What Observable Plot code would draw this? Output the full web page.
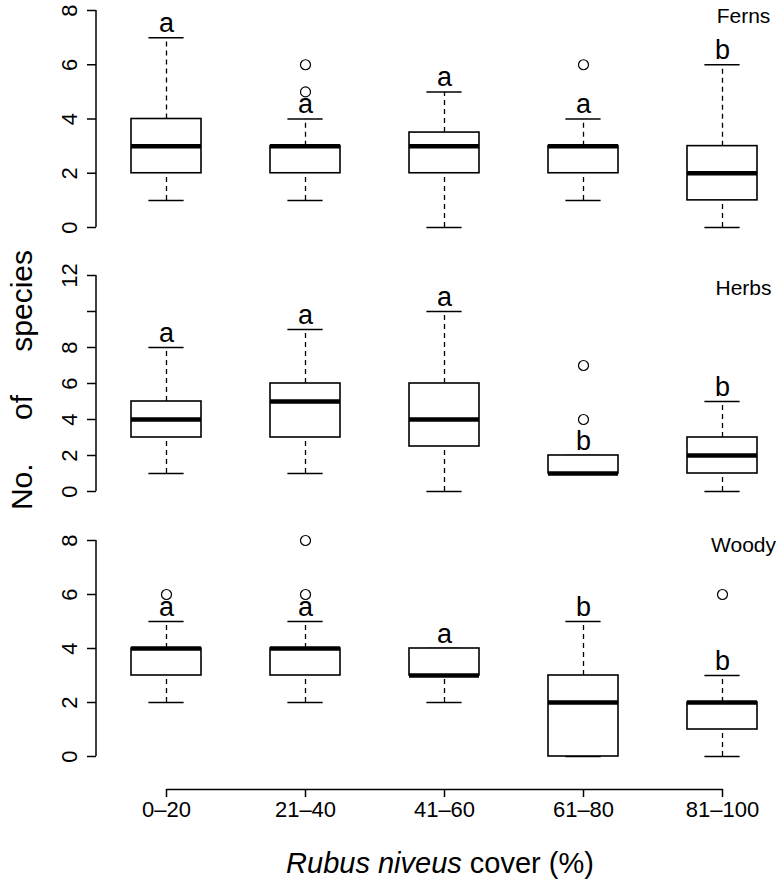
<!DOCTYPE html>
<html><head><meta charset="utf-8">
<script src="https://cdn.jsdelivr.net/npm/d3@7"></script>
<script src="https://cdn.jsdelivr.net/npm/@observablehq/plot@0.6"></script>
<style>
html,body{margin:0;padding:0;background:#fff;}
#chart{position:relative;width:784px;height:885px;overflow:hidden;background:#fff;font-family:"Liberation Sans",Arial,Helvetica,sans-serif;}
#chart svg{position:absolute;left:0;}
</style></head><body><div id="chart"></div>
<script>
// ---- data ----
const categories = ["0–20", "21–40", "41–60", "61–80", "81–100"];

const fernsMin = [1, 1, 0, 1, 0];
const fernsQ1 = [2, 2, 2, 2, 1];
const fernsMedian = [3, 3, 3, 3, 2];
const fernsQ3 = [4, 3, 3.5, 3, 3];
const fernsMax = [7, 4, 5, 4, 6];
const fernsOutliers = [[], [5, 6], [], [6], []];
const fernsLetters = ["a", "a", "a", "a", "b"];
const fernsTicks = [0, 2, 4, 6, 8];
const fernsTickLabels = ["0", "2", "4", "6", "8"];

const herbsMin = [1, 1, 0, 1, 0];
const herbsQ1 = [3, 3, 2.5, 1, 1];
const herbsMedian = [4, 5, 4, 1, 2];
const herbsQ3 = [5, 6, 6, 2, 3];
const herbsMax = [8, 9, 10, 2, 5];
const herbsOutliers = [[], [], [], [4, 7], []];
const herbsLetters = ["a", "a", "a", "b", "b"];
const herbsTicks = [0, 2, 4, 6, 8, 10, 12];
const herbsTickLabels = ["0", "2", "4", "6", "8", "", "12"];

const woodyMin = [2, 2, 2, 0, 0];
const woodyQ1 = [3, 3, 3, 0, 1];
const woodyMedian = [4, 4, 3, 2, 2];
const woodyQ3 = [4, 4, 4, 3, 2];
const woodyMax = [5, 5, 4, 5, 3];
const woodyOutliers = [[6], [6, 8], [], [], [6]];
const woodyLetters = ["a", "a", "a", "b", "b"];
const woodyTicks = [0, 2, 4, 6, 8];
const woodyTickLabels = ["0", "2", "4", "6", "8"];

const panelLabels = ["Ferns", "Herbs", "Woody"];
const yTitle = "No. of species";
const xTitleItalic = "Rubus niveus";
const xTitleRest = " cover (%)";

// ---- layout ----
const FONT = '"Liberation Sans", Arial, Helvetica, sans-serif';
const chart = document.getElementById("chart");
const xScale = {type: "band", domain: categories, paddingInner: 0.5, paddingOuter: 0.25, axis: null};
const common = {width: 800, marginLeft: 96, marginRight: 8,
  style: {maxWidth: "none", background: "transparent", overflow: "visible", fontFamily: FONT, color: "black"}};

function panel(p) {
  const rows = categories.map((c, i) => ({cat: c, min: p.min[i], q1: p.q1[i], med: p.med[i], q3: p.q3[i], max: p.max[i], letter: p.letters[i]}));
  const outl = categories.flatMap((c, i) => p.outliers[i].map(v => ({cat: c, value: v})));
  const yLo = p.ticks[0], yHi = p.ticks[p.ticks.length - 1];
  const axisLine = (index, scales, values, dims) => {
    const l = d3.create("svg:line")
      .attr("x1", dims.marginLeft).attr("x2", dims.marginLeft)
      .attr("y1", scales.y(yLo)).attr("y2", scales.y(yHi))
      .attr("stroke", "black").attr("stroke-width", 1.5);
    return l.node();
  };
  const fig = Plot.plot({
    ...common,
    height: 250, marginTop: p.mt, marginBottom: p.mb,
    x: xScale,
    y: {domain: [yLo, yHi]},
    marks: [
      Plot.axisY({ticks: p.ticks, tickFormat: d => p.tickLabels[p.ticks.indexOf(d)], tickSize: 9, tickPadding: 11,
        tickRotate: -90, textAnchor: "middle", lineAnchor: "bottom", fontSize: 22, strokeWidth: 1.5, label: null}),
      axisLine,
      Plot.ruleX(rows, {x: "cat", y1: "min", y2: "q1", strokeDasharray: "5,4", strokeWidth: 1.3}),
      Plot.ruleX(rows, {x: "cat", y1: "q3", y2: "max", strokeDasharray: "5,4", strokeWidth: 1.3}),
      Plot.tickY(rows, {x: "cat", y: "min", insetLeft: 17.4, insetRight: 17.4, strokeWidth: 1.5}),
      Plot.tickY(rows, {x: "cat", y: "max", insetLeft: 17.4, insetRight: 17.4, strokeWidth: 1.5}),
      Plot.barY(rows, {x: "cat", y1: "q1", y2: "q3", fill: "white", stroke: "black", strokeWidth: 1.6}),
      Plot.tickY(rows, {x: "cat", y: "med", strokeWidth: 4.5}),
      Plot.dot(outl, {x: "cat", y: "value", r: 5, fill: "white", stroke: "black", strokeWidth: 1.2}),
      Plot.text(rows, {x: "cat", y: "max", text: "letter", lineAnchor: "bottom", dy: -6, fontSize: 27}),
      Plot.text([p.label], {text: d => d, frameAnchor: "top-right", dx: -49, dy: p.labelDy, textAnchor: "middle", lineAnchor: "top", fontSize: 21})
    ]
  });
  fig.style.top = p.top + "px";
  chart.appendChild(fig);
}

panel({label: panelLabels[0], top: 0, mt: 10, mb: 23, labelDy: -2,
  min: fernsMin, q1: fernsQ1, med: fernsMedian, q3: fernsQ3, max: fernsMax, outliers: fernsOutliers, letters: fernsLetters,
  ticks: fernsTicks, tickLabels: fernsTickLabels});
panel({label: panelLabels[1], top: 255, mt: 20, mb: 14, labelDy: 5,
  min: herbsMin, q1: herbsQ1, med: herbsMedian, q3: herbsQ3, max: herbsMax, outliers: herbsOutliers, letters: herbsLetters,
  ticks: herbsTicks, tickLabels: herbsTickLabels});
panel({label: panelLabels[2], top: 515, mt: 25, mb: 9, labelDy: -3,
  min: woodyMin, q1: woodyQ1, med: woodyMedian, q3: woodyQ3, max: woodyMax, outliers: woodyOutliers, letters: woodyLetters,
  ticks: woodyTicks, tickLabels: woodyTickLabels});

// bottom category axis
const xAxisFig = Plot.plot({
  ...common,
  height: 115, marginTop: 0, marginBottom: 0,
  x: xScale,
  y: {domain: [0, 1], range: [19, 27], axis: null},
  marks: [
    Plot.lineY(categories, {x: d => d, y: () => 0, strokeWidth: 1.5}),
    Plot.ruleX(categories, {x: d => d, y1: () => 0, y2: () => 1, strokeWidth: 1.5}),
    Plot.text(categories, {x: d => d, y: () => 1, text: d => d, dy: 4, lineAnchor: "top", fontSize: 22})
  ]
});
xAxisFig.style.top = "770px";
chart.appendChild(xAxisFig);

// titles
const titles = d3.create("svg").attr("width", 784).attr("height", 885)
  .style("position", "absolute").style("left", "0").style("top", "0").style("pointer-events", "none")
  .style("font-family", FONT);
titles.append("text").attr("transform", "translate(32,380) rotate(-90)")
  .attr("text-anchor", "middle").style("font-size", "30px").style("word-spacing", "35px")
  .text(yTitle);
const xt = titles.append("text").attr("x", 440).attr("y", 873).attr("text-anchor", "middle").style("font-size", "29px");
xt.append("tspan").style("font-style", "italic").text(xTitleItalic);
xt.append("tspan").text(xTitleRest);
chart.appendChild(titles.node());
</script></body></html>
